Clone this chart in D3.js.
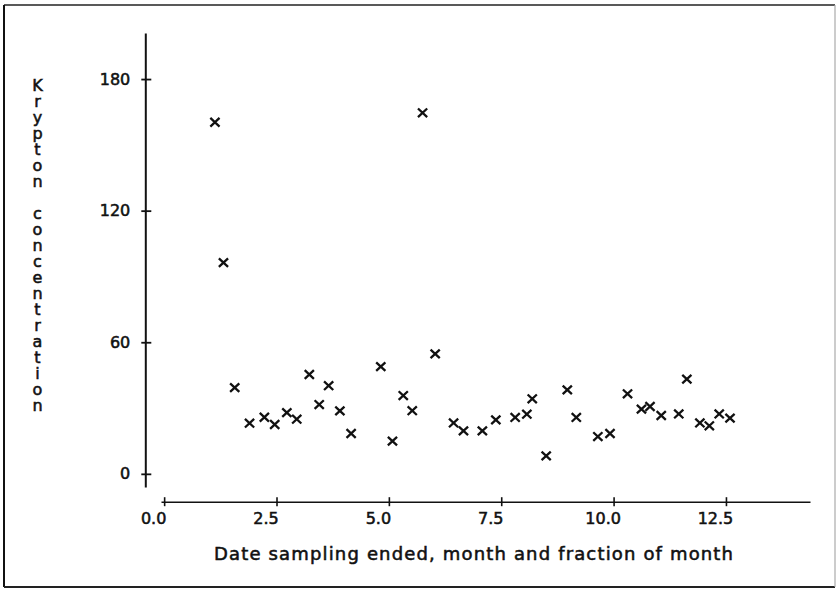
<!DOCTYPE html>
<html>
<head>
<meta charset="utf-8">
<script src="https://cdn.jsdelivr.net/npm/d3@7/dist/d3.min.js"></script>
<style>
  html, body { margin: 0; padding: 0; background: #fff; }
  svg { display: block; }
  text { font-family: "DejaVu Sans", sans-serif; fill: #111; }
  .ytitle { writing-mode: vertical-rl; text-orientation: upright; }
</style>
</head>
<body>
<div id="chart"></div>
<script>
// ---- data ----
const monthValues = [1.13, 1.32, 1.57, 1.90, 2.23, 2.46, 2.73, 2.95, 3.23, 3.45, 3.66, 3.91, 4.16,
  4.82, 5.08, 5.32, 5.52, 5.75, 6.03, 6.44, 6.66, 7.08, 7.38, 7.81, 8.07, 8.19, 8.50, 8.97, 9.17,
  9.65, 9.92, 10.31, 10.62, 10.81, 11.06, 11.45, 11.63, 11.92, 12.13, 12.35, 12.59];
const kryptonValues = [160.3, 96.3, 39.3, 23.1, 25.8, 22.5, 27.9, 24.9, 45.3, 31.6, 40.2, 28.7, 18.4,
  48.9, 14.9, 35.7, 28.8, 164.6, 54.7, 23.2, 19.6, 19.6, 24.6, 25.7, 27.2, 34.2, 8.2, 38.3, 25.7,
  17.0, 18.4, 36.5, 29.5, 30.7, 26.6, 27.3, 43.2, 23.2, 21.9, 27.3, 25.4];
const xTickValues = [0, 2.5, 5, 7.5, 10, 12.5];
const yTickValues = [0, 60, 120, 180];
const xTitle = "Date sampling ended, month and fraction of month";
const yTitle = "Krypton concentration";

const W = 838, H = 590;
const svg = d3.select("#chart").append("svg").attr("width", W).attr("height", H);
svg.append("rect").attr("width", W).attr("height", H).attr("fill", "#fff");

// frame
const frame = svg.append("g").attr("fill", "none");
frame.append("line").attr("x1", 4).attr("y1", 5).attr("x2", 835).attr("y2", 5).attr("stroke", "#222").attr("stroke-width", 1.6);
frame.append("line").attr("x1", 4).attr("y1", 5).attr("x2", 4).attr("y2", 587).attr("stroke", "#111").attr("stroke-width", 2);
frame.append("line").attr("x1", 4).attr("y1", 587).attr("x2", 835).attr("y2", 587).attr("stroke", "#222").attr("stroke-width", 1.8);
frame.append("line").attr("x1", 835).attr("y1", 5).attr("x2", 835).attr("y2", 587).attr("stroke", "#aaa").attr("stroke-width", 1.2);

// scales
const x = d3.scaleLinear().domain([-0.07, 14.37]).range([161, 810]);
const y = d3.scaleLinear().domain([-6, 201]).range([487, 33]);

const thicken = sel => sel.attr("stroke", "#111").attr("stroke-width", 0.55).attr("paint-order", "stroke");

// y axis
const yAxisG = svg.append("g").attr("transform", "translate(145.3,0)")
  .call(d3.axisLeft(y).tickValues(yTickValues).tickSizeInner(4).tickSizeOuter(0).tickPadding(11)
    .tickFormat(d3.format("d")));
yAxisG.select(".domain").attr("stroke", "#111").attr("stroke-width", 2);
yAxisG.selectAll(".tick line").attr("x1", 6).attr("stroke", "#111").attr("stroke-width", 1.8);
yAxisG.selectAll(".tick text").attr("font-size", 16)
  .attr("font-family", "DejaVu Sans").attr("fill", "#111").call(thicken);

// x axis
const xAxisG = svg.append("g").attr("transform", "translate(0,501.7)")
  .call(d3.axisBottom(x).tickValues(xTickValues).tickSizeInner(4.5).tickSizeOuter(0).tickPadding(6)
    .tickFormat(d3.format(".1f")));
xAxisG.select(".domain").attr("stroke", "#111").attr("stroke-width", 1.6);
xAxisG.selectAll(".tick line").attr("y1", -4.5).attr("stroke", "#111").attr("stroke-width", 1.6);
xAxisG.selectAll(".tick text").attr("font-size", 16)
  .attr("font-family", "DejaVu Sans").attr("fill", "#111")
  .attr("dx", -11).call(thicken);

// x title
svg.append("text")
  .attr("x", 473.5).attr("y", 560)
  .attr("text-anchor", "middle")
  .attr("font-size", 18)
  .attr("textLength", 519).attr("lengthAdjust", "spacing")
  .text(xTitle).call(thicken);

// y title: upright letters stacked vertically
svg.append("text")
  .attr("class", "ytitle")
  .attr("x", 37.5).attr("y", 76)
  .attr("font-size", 16)
  .attr("letter-spacing", -3)
  .text(yTitle).call(thicken);

// points
const data = monthValues.map((m, i) => ({ m, k: kryptonValues[i] }));
svg.append("g").selectAll("path").data(data).join("path")
  .attr("transform", d => `translate(${x(d.m)},${y(d.k)})`)
  .attr("d", "M-4.6,-4.3L4.6,4.3M-4.6,4.3L4.6,-4.3")
  .attr("fill", "none").attr("stroke", "#111").attr("stroke-width", 2.3);
</script>
</body>
</html>
